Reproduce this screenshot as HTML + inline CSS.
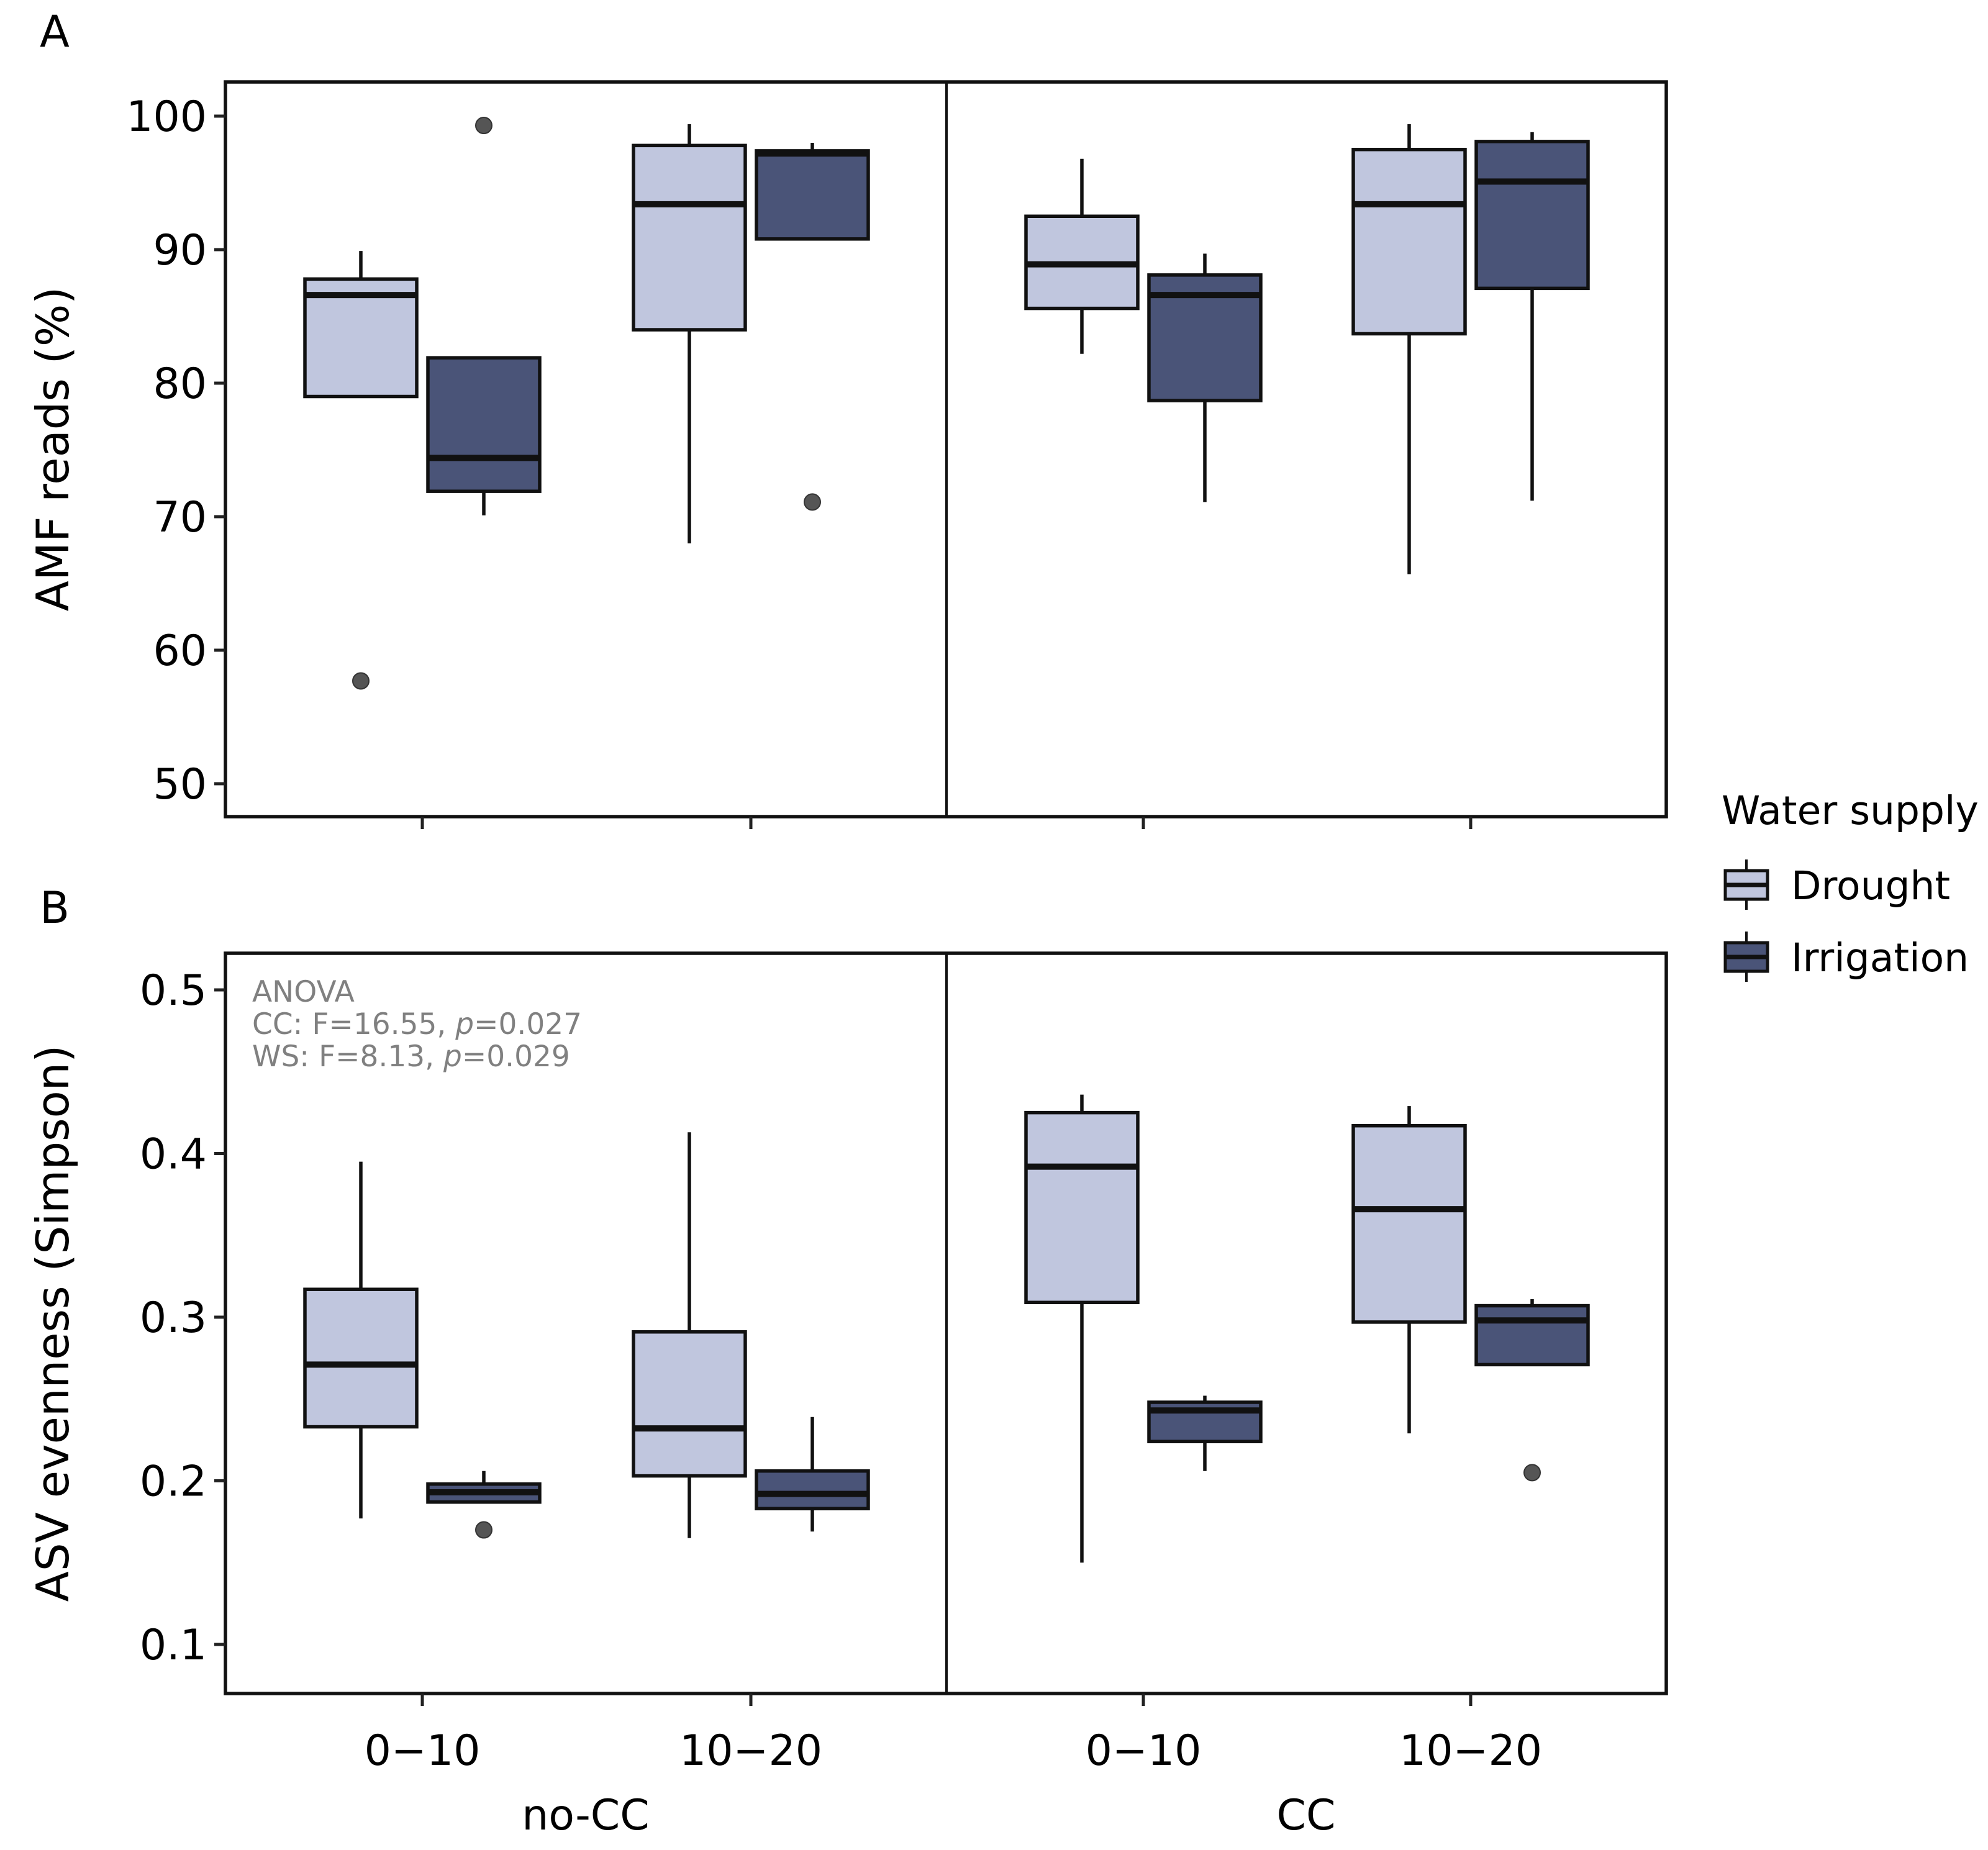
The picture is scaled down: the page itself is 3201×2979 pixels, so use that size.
<!DOCTYPE html>
<html><head><meta charset="utf-8"><style>
html,body{margin:0;padding:0;background:#fff}
svg{display:block}
text{font-family:"DejaVu Sans","Liberation Sans",sans-serif}
</style></head><body>
<svg id="chart" width="3201" height="2979" viewBox="0 0 3201 2979" xmlns="http://www.w3.org/2000/svg">
<text x="64" y="75" font-size="70">A</text>
<text x="64" y="1486" font-size="70">B</text>
<g id="gA"></g>
<g id="gB"></g>
<text x="170" y="723" font-size="72" text-anchor="middle" transform="rotate(-90 170 723)" dy="-60">AMF reads (%)</text>
<text x="170" y="2131" font-size="72" text-anchor="middle" transform="rotate(-90 170 2131)" dy="-60">ASV evenness (Simpson)</text>
<text x="943" y="2946" font-size="68" text-anchor="middle">no-CC</text>
<text x="2103" y="2946" font-size="68" text-anchor="middle">CC</text>
<g fill="#808080" font-size="47">
<text x="406" y="1613">ANOVA</text>
<text x="406" y="1665">CC: F=16.55, <tspan font-style="italic">p</tspan>=0.027</text>
<text x="406" y="1717">WS: F=8.13, <tspan font-style="italic">p</tspan>=0.029</text>
</g>
<g>
<text x="2772" y="1327" font-size="63">Water supply</text>
<g>
<line x1="2812" y1="1384" x2="2812" y2="1465" stroke="#111" stroke-width="4"/>
<rect x="2778" y="1402" width="68" height="46" fill="#c0c6de" stroke="#111" stroke-width="5"/>
<line x1="2778" y1="1425" x2="2846" y2="1425" stroke="#111" stroke-width="7"/>
<text x="2884" y="1448" font-size="63">Drought</text>
</g>
<g>
<line x1="2812" y1="1500" x2="2812" y2="1581" stroke="#111" stroke-width="4"/>
<rect x="2778" y="1518" width="68" height="46" fill="#4a5478" stroke="#111" stroke-width="5"/>
<line x1="2778" y1="1541" x2="2846" y2="1541" stroke="#111" stroke-width="7"/>
<text x="2884" y="1564" font-size="63">Irrigation</text>
</g>
</g>
</svg>
<script>
const depthLabels = ["0\u221210","10\u221220","0\u221210","10\u221220"];
const waterGroups = ["Drought","Irrigation"];
// each: [lowerWhisker, q1, median, q3, upperWhisker]
const amfDrought = [[79.0,79.0,86.6,87.8,89.9],[68.0,84.0,93.4,97.8,99.4],[82.2,85.6,88.9,92.5,96.8],[65.7,83.7,93.4,97.5,99.4]];
const amfIrrigation = [[70.1,71.9,74.4,81.9,81.9],[90.8,90.8,97.2,97.4,98.0],[71.1,78.7,86.6,88.1,89.7],[71.2,87.1,95.1,98.1,98.8]];
const amfOutliersDrought = [[57.7],[],[],[]];
const amfOutliersIrrigation = [[99.3],[71.1],[],[]];
const evDrought = [[0.177,0.233,0.271,0.317,0.395],[0.165,0.203,0.232,0.291,0.413],[0.150,0.309,0.392,0.425,0.436],[0.229,0.297,0.366,0.417,0.429]];
const evIrrigation = [[0.187,0.187,0.193,0.198,0.206],[0.169,0.183,0.192,0.206,0.239],[0.206,0.224,0.243,0.248,0.252],[0.271,0.271,0.298,0.307,0.311]];
const evOutliersDrought = [[],[],[],[]];
const evOutliersIrrigation = [[0.170],[],[],[0.205]];
const amfTicks = [50,60,70,80,90,100];
const evTicks = [0.1,0.2,0.3,0.4,0.5];

const NS="http://www.w3.org/2000/svg";
const L=363,R=2683,DIV=1524;
const xCenters=[680,1209,1841,2368];
const dodge=99,bw=180;
const colors=["#c0c6de","#4a5478"];
function mk(g,tag,attrs){const e=document.createElementNS(NS,tag);for(const k in attrs)e.setAttribute(k,attrs[k]);g.appendChild(e);return e;}

function panel(gid,top,bottom,yScale,ticks,fmt,sets,outs,showX,key){
  const g=document.getElementById(gid);
  sets.forEach((set,s)=>{
    set.forEach((d,i)=>{
      const cx=xCenters[i]+(s===0?-dodge:dodge);
      const bg=mk(g,'g',{});
      
      
      mk(bg,'line',{x1:cx,x2:cx,y1:yScale(d[4]),y2:yScale(d[3]),stroke:'#111','stroke-width':5.5});
      mk(bg,'line',{x1:cx,x2:cx,y1:yScale(d[1]),y2:yScale(d[0]),stroke:'#111','stroke-width':5.5});
      mk(bg,'rect',{x:cx-bw/2,y:yScale(d[3]),width:bw,height:Math.max(1,yScale(d[1])-yScale(d[3])),fill:colors[s],stroke:'#111','stroke-width':5.5});
      mk(bg,'line',{x1:cx-bw/2,x2:cx+bw/2,y1:yScale(d[2]),y2:yScale(d[2]),stroke:'#111','stroke-width':10});
      outs[s][i].forEach(v=>{
        const c=mk(bg,'circle',{cx:cx,cy:yScale(v),r:13,fill:'#555',stroke:'#333','stroke-width':2});
        
        
      });
    });
  });
  const fr=mk(g,'rect',{x:L,y:top,width:R-L,height:bottom-top,fill:'none',stroke:'#111','stroke-width':5.5});
  
  
  mk(g,'line',{x1:DIV,x2:DIV,y1:top,y2:bottom,stroke:'#111','stroke-width':4});
  ticks.forEach(t=>{
    const y=yScale(t);
    mk(g,'line',{x1:L-18,x2:L,y1:y,y2:y,stroke:'#222','stroke-width':5});
    const tx=mk(g,'text',{x:L-30,y:y+24,'font-size':68,'text-anchor':'end'});
    tx.textContent=fmt(t);
    
    
  });
  xCenters.forEach((x,i)=>{
    mk(g,'line',{x1:x,x2:x,y1:bottom,y2:bottom+20,stroke:'#222','stroke-width':5});
    if(showX){
      const tx=mk(g,'text',{x:x,y:2842,'font-size':68,'text-anchor':'middle'});
      tx.textContent=depthLabels[i];
      
      
    }
  });
}
const yA=v=>187+(100-v)*21.5;
const yB=v=>1594+(0.5-v)*2635;
panel('gA',132,1315,yA,amfTicks,t=>String(t),[amfDrought,amfIrrigation],[amfOutliersDrought,amfOutliersIrrigation],false,'amf');
panel('gB',1535,2727,yB,evTicks,t=>t.toFixed(1),[evDrought,evIrrigation],[evOutliersDrought,evOutliersIrrigation],true,'evenness');
</script>
</body></html>
